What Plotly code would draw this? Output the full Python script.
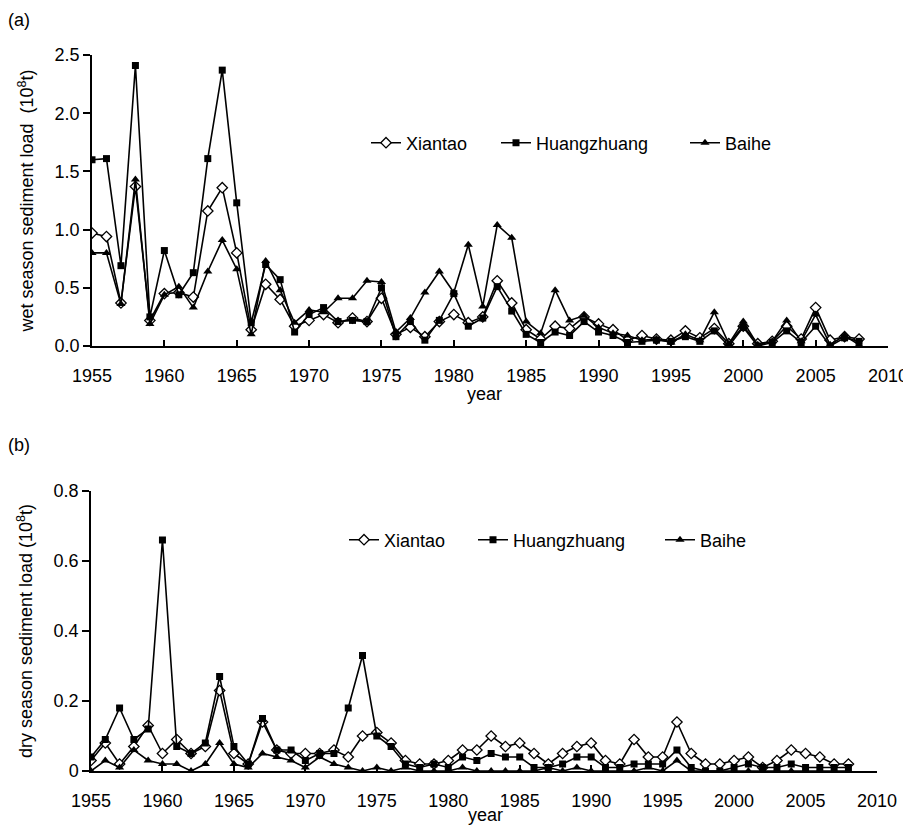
import plotly.graph_objects as go

years = list(range(1955, 2009))

# wet season sediment load (10^8 t)
wet_xiantao = [0.97, 0.94, 0.37, 1.37, 0.22, 0.45, 0.46, 0.42, 1.16, 1.36,
               0.80, 0.14, 0.53, 0.40, 0.17, 0.22, 0.27, 0.20, 0.24, 0.21,
               0.41, 0.10, 0.16, 0.08, 0.21, 0.27, 0.20, 0.25, 0.56, 0.37,
               0.14, 0.06, 0.17, 0.15, 0.25, 0.19, 0.14, 0.05, 0.09, 0.06,
               0.05, 0.13, 0.07, 0.15, 0.02, 0.17, 0.02, 0.04, 0.17, 0.06,
               0.33, 0.05, 0.08, 0.06]
wet_huangzhuang = [1.60, 1.61, 0.69, 2.41, 0.25, 0.82, 0.44, 0.63, 1.61, 2.37,
                   1.23, 0.20, 0.70, 0.57, 0.12, 0.27, 0.33, 0.21, 0.22, 0.21,
                   0.50, 0.08, 0.21, 0.05, 0.22, 0.45, 0.17, 0.24, 0.51, 0.30,
                   0.10, 0.03, 0.12, 0.09, 0.21, 0.12, 0.09, 0.03, 0.04, 0.05,
                   0.04, 0.08, 0.04, 0.13, 0.00, 0.16, 0.00, 0.03, 0.13, 0.03,
                   0.17, 0.00, 0.07, 0.04]
wet_baihe = [0.80, 0.80, 0.36, 1.43, 0.19, 0.44, 0.51, 0.33, 0.64, 0.91,
             0.66, 0.10, 0.73, 0.48, 0.20, 0.31, 0.29, 0.41, 0.41, 0.56,
             0.55, 0.12, 0.24, 0.46, 0.64, 0.46, 0.87, 0.34, 1.04, 0.93,
             0.21, 0.11, 0.48, 0.22, 0.26, 0.16, 0.11, 0.09, 0.05, 0.06,
             0.03, 0.10, 0.05, 0.29, 0.02, 0.21, 0.01, 0.04, 0.22, 0.04,
             0.27, 0.01, 0.09, 0.01]

# dry season sediment load (10^8 t)
dry_xiantao = [0.03, 0.08, 0.02, 0.07, 0.13, 0.05, 0.09, 0.05, 0.07, 0.23,
               0.05, 0.02, 0.14, 0.06, 0.05, 0.05, 0.05, 0.06, 0.04, 0.10,
               0.11, 0.08, 0.03, 0.02, 0.02, 0.03, 0.06, 0.06, 0.10, 0.07,
               0.08, 0.05, 0.02, 0.05, 0.07, 0.08, 0.03, 0.02, 0.09, 0.04,
               0.04, 0.14, 0.05, 0.02, 0.02, 0.03, 0.04, 0.01, 0.03, 0.06,
               0.05, 0.04, 0.02, 0.02]
dry_huangzhuang = [0.04, 0.09, 0.18, 0.09, 0.12, 0.66, 0.07, 0.05, 0.08, 0.27,
                   0.07, 0.02, 0.15, 0.06, 0.06, 0.03, 0.05, 0.05, 0.18, 0.33,
                   0.10, 0.07, 0.02, 0.01, 0.02, 0.01, 0.04, 0.03, 0.05, 0.04,
                   0.04, 0.01, 0.01, 0.02, 0.04, 0.04, 0.01, 0.01, 0.02, 0.02,
                   0.02, 0.06, 0.01, 0.00, 0.00, 0.01, 0.02, 0.01, 0.01, 0.02,
                   0.01, 0.01, 0.01, 0.01]
dry_baihe = [0.00, 0.03, 0.01, 0.06, 0.03, 0.02, 0.02, 0.00, 0.02, 0.08,
             0.02, 0.01, 0.05, 0.04, 0.03, 0.01, 0.04, 0.02, 0.01, 0.00,
             0.01, 0.00, 0.01, 0.00, 0.00, 0.00, 0.01, 0.00, 0.00, 0.00,
             0.00, 0.00, 0.01, 0.00, 0.01, 0.00, 0.00, 0.00, 0.00, 0.01,
             0.00, 0.03, 0.00, 0.00, 0.00, 0.00, 0.00, 0.00, 0.00, 0.00,
             0.00, 0.00, 0.00, 0.00]

stations = ['Xiantao', 'Huangzhuang', 'Baihe']
x_ticks = list(range(1955, 2011, 5))

# the page body has an 8px margin; positions below are window pixels
W, H = 903, 819
OFF = 8


def px(x):
    return (x - OFF) / W


def py(y):
    return (H - (y - OFF)) / H


FONT = 'Liberation Sans, Arial, sans-serif'
styles = {
    'Xiantao': dict(symbol='diamond', size=8, color='white',
                    line=dict(color='black', width=1.3)),
    'Huangzhuang': dict(symbol='square', size=7, color='black'),
    'Baihe': dict(symbol='triangle-up', size=8, color='black'),
}

# one legend per entry so each item sits where the reference puts it
legend_x_a = [367, 497, 686]
legend_x_b = [345, 474, 661]

fig = go.Figure()

for i, (name, ys) in enumerate(zip(stations, [wet_xiantao, wet_huangzhuang, wet_baihe])):
    fig.add_trace(go.Scatter(
        x=years, y=ys, name=name, mode='lines+markers',
        line=dict(color='black', width=1.6),
        marker=styles[name], xaxis='x', yaxis='y',
        legend='legend' if i == 0 else f'legend{i + 1}',
    ))

for i, (name, ys) in enumerate(zip(stations, [dry_xiantao, dry_huangzhuang, dry_baihe])):
    fig.add_trace(go.Scatter(
        x=years, y=ys, name=name, mode='lines+markers',
        line=dict(color='black', width=1.6),
        marker=styles[name], xaxis='x2', yaxis='y2',
        legend=f'legend{i + 4}',
    ))

xcommon = dict(
    tickvals=x_ticks, ticks='inside', ticklen=6, tickcolor='black',
    tickwidth=1.5, showline=True, linecolor='black', linewidth=1.5,
    showgrid=False, zeroline=False, tickfont=dict(size=18, color='black'),
    ticklabelstandoff=13, ticklabeloverflow='allow', automargin=False,
)
ycommon = dict(
    ticks='outside', ticklen=7, tickcolor='black', tickwidth=1.5,
    showline=True, linecolor='black', linewidth=1.5, showgrid=False,
    zeroline=False, tickfont=dict(size=18, color='black'), automargin=False,
)

layout_legends = {}
for i, lx in enumerate(legend_x_a + legend_x_b):
    key = 'legend' if i == 0 else f'legend{i + 1}'
    ly = 143 if i < 3 else 540
    layout_legends[key] = dict(
        orientation='h', x=px(lx - 1), y=py(ly),
        xanchor='left', yanchor='middle', bgcolor='rgba(0,0,0,0)',
        font=dict(size=18), itemwidth=30,
    )


def label(text, x, y, **kw):
    return dict(text=text, x=px(x), y=py(y), xref='paper', yref='paper',
                showarrow=False, yanchor='middle', font=dict(size=18), **kw)


fig.update_layout(
    width=W, height=H,
    margin=dict(l=0, r=0, t=0, b=0, autoexpand=False),
    paper_bgcolor='white', plot_bgcolor='white',
    font=dict(family=FONT, color='black'),
    showlegend=True,
    xaxis=dict(xcommon, domain=[px(92), px(888)], range=[1955, 2010],
               anchor='y'),
    yaxis=dict(ycommon, domain=[py(346), py(55)],
               range=[0, 2.5], tickvals=[0, 0.5, 1.0, 1.5, 2.0, 2.5],
               ticktext=['0.0', '0.5', '1.0', '1.5', '2.0', '2.5'],
               anchor='x',
               title=dict(text='wet season sediment load  (10<sup>8</sup>t)',
                          font=dict(size=18), standoff=16)),
    xaxis2=dict(xcommon, domain=[px(91), px(877)], range=[1955, 2010],
                anchor='y2'),
    yaxis2=dict(ycommon, domain=[py(771), py(491)],
                range=[0, 0.8], tickvals=[0, 0.2, 0.4, 0.6, 0.8],
                ticktext=['0', '0.2', '0.4', '0.6', '0.8'],
                anchor='x2',
                title=dict(text='dry season sediment load (10<sup>8</sup>t)',
                           font=dict(size=18), standoff=16)),
    annotations=[
        label('(a)', 6, 20, xanchor='left'),
        label('(b)', 6, 445, xanchor='left'),
        label('year', 484, 394, xanchor='center'),
        label('year', 485, 815, xanchor='center'),
    ],
    **layout_legends,
)

fig.write_html('out.html')
